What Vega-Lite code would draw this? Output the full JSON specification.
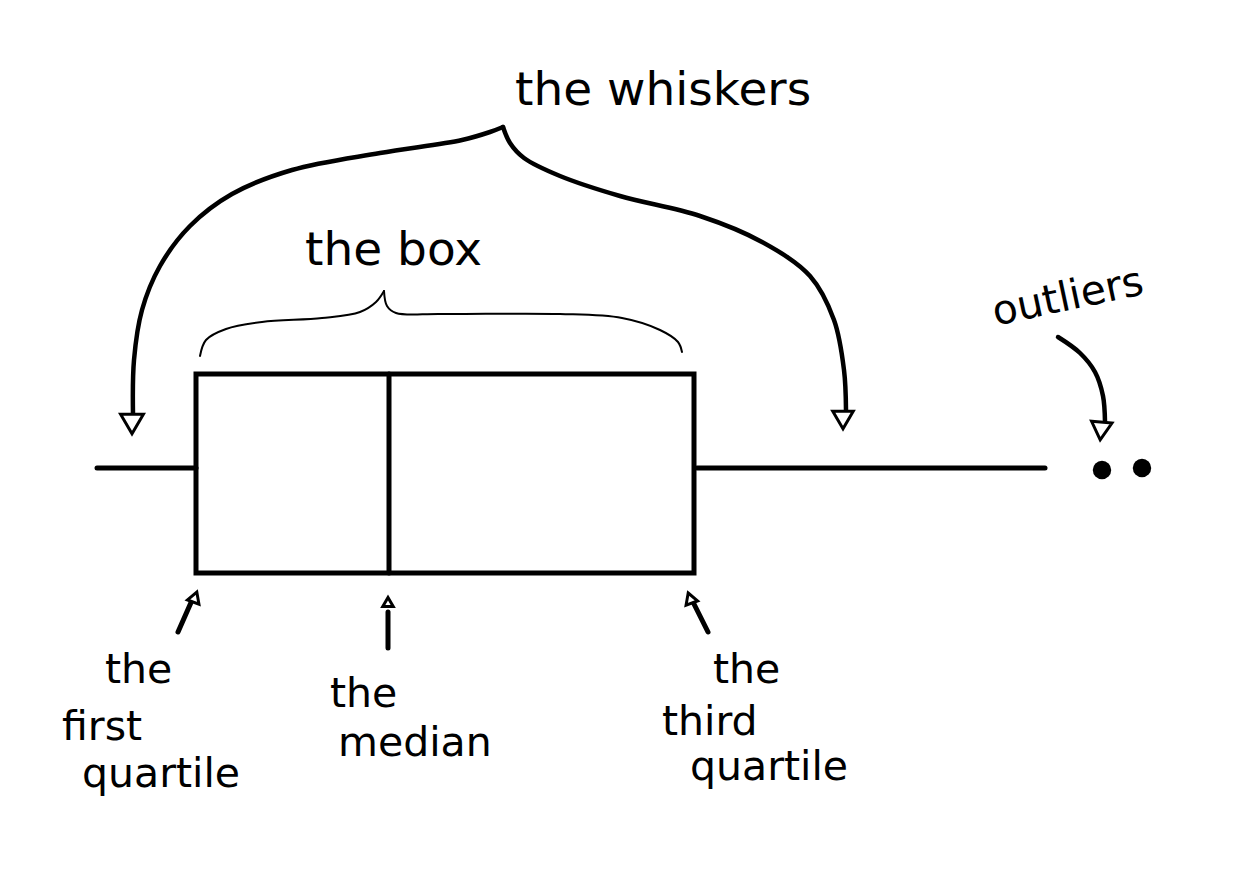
{
  "$schema": "https://vega.github.io/schema/vega-lite/v6.json",
  "width": 1240,
  "height": 873,
  "autosize": {"type": "fit", "contains": "padding"},
  "padding": 0,
  "background": "white",
  "config": {"view": {"stroke": null}},
  "datasets": {
    "segs": [
      {"g": "left whisker", "x": 97, "x2": 196, "y": 468, "y2": 468},
      {"g": "right whisker", "x": 697, "x2": 1045, "y": 468, "y2": 468},
      {"g": "median", "x": 389, "x2": 389, "y": 374, "y2": 573},
      {"g": "q1 arrow", "x": 178, "x2": 193, "y": 632, "y2": 598},
      {"g": "median arrow", "x": 388, "x2": 388, "y": 648, "y2": 612},
      {"g": "q3 arrow", "x": 708, "x2": 692, "y": 632, "y2": 600}
    ],
    "box": [{"q1": 196, "q3": 694, "top": 374, "bottom": 573}],
    "curves": [
      {"g": "wl", "i": 0, "x": 133, "y": 415},
      {"g": "wl", "i": 1, "x": 134, "y": 360},
      {"g": "wl", "i": 2, "x": 142, "y": 310},
      {"g": "wl", "i": 3, "x": 160, "y": 266},
      {"g": "wl", "i": 4, "x": 190, "y": 226},
      {"g": "wl", "i": 5, "x": 232, "y": 194},
      {"g": "wl", "i": 6, "x": 292, "y": 170},
      {"g": "wl", "i": 7, "x": 380, "y": 153},
      {"g": "wl", "i": 8, "x": 462, "y": 140},
      {"g": "wl", "i": 9, "x": 490, "y": 132},
      {"g": "wl", "i": 10, "x": 503, "y": 127},
      {"g": "wr", "i": 0, "x": 503, "y": 127},
      {"g": "wr", "i": 1, "x": 510, "y": 143},
      {"g": "wr", "i": 2, "x": 524, "y": 158},
      {"g": "wr", "i": 3, "x": 560, "y": 176},
      {"g": "wr", "i": 4, "x": 620, "y": 196},
      {"g": "wr", "i": 5, "x": 700, "y": 216},
      {"g": "wr", "i": 6, "x": 762, "y": 242},
      {"g": "wr", "i": 7, "x": 810, "y": 276},
      {"g": "wr", "i": 8, "x": 834, "y": 320},
      {"g": "wr", "i": 9, "x": 844, "y": 370},
      {"g": "wr", "i": 10, "x": 846, "y": 410},
      {"g": "out", "i": 0, "x": 1058, "y": 337},
      {"g": "out", "i": 1, "x": 1080, "y": 353},
      {"g": "out", "i": 2, "x": 1095, "y": 372},
      {"g": "out", "i": 3, "x": 1103, "y": 396},
      {"g": "out", "i": 4, "x": 1105, "y": 422}
    ],
    "thin": [
      {"g": "bl", "i": 0, "x": 200, "y": 356},
      {"g": "bl", "i": 1, "x": 206, "y": 340},
      {"g": "bl", "i": 2, "x": 226, "y": 329},
      {"g": "bl", "i": 3, "x": 262, "y": 322},
      {"g": "bl", "i": 4, "x": 322, "y": 318},
      {"g": "bl", "i": 5, "x": 360, "y": 312},
      {"g": "bl", "i": 6, "x": 376, "y": 302},
      {"g": "bl", "i": 7, "x": 384, "y": 291},
      {"g": "br", "i": 0, "x": 384, "y": 291},
      {"g": "br", "i": 1, "x": 387, "y": 306},
      {"g": "br", "i": 2, "x": 396, "y": 313},
      {"g": "br", "i": 3, "x": 440, "y": 314},
      {"g": "br", "i": 4, "x": 560, "y": 314},
      {"g": "br", "i": 5, "x": 622, "y": 318},
      {"g": "br", "i": 6, "x": 660, "y": 330},
      {"g": "br", "i": 7, "x": 678, "y": 342},
      {"g": "br", "i": 8, "x": 682, "y": 352}
    ],
    "heads": [
      {"g": "left whisker head", "x": 132, "y": 424, "a": 0, "s": 520},
      {"g": "right whisker head", "x": 843, "y": 420, "a": 0, "s": 420},
      {"g": "outlier head", "x": 1101, "y": 431, "a": 5, "s": 420},
      {"g": "q1 head", "x": 195, "y": 597, "a": 200, "s": 150},
      {"g": "median head", "x": 388, "y": 602, "a": 180, "s": 110},
      {"g": "q3 head", "x": 690, "y": 598, "a": 160, "s": 150}
    ],
    "outliers": [
      {"x": 1102, "y": 470},
      {"x": 1142, "y": 468}
    ],
    "titles": [
      {"t": "the whiskers", "x": 515, "y": 105},
      {"t": "the box", "x": 305, "y": 265}
    ],
    "labels": [
      {"t": "the", "x": 105, "y": 683},
      {"t": "first", "x": 62, "y": 740},
      {"t": "quartile", "x": 82, "y": 787},
      {"t": "the", "x": 330, "y": 707},
      {"t": "median", "x": 338, "y": 756},
      {"t": "the", "x": 713, "y": 683},
      {"t": "third", "x": 662, "y": 735},
      {"t": "quartile", "x": 690, "y": 780}
    ],
    "rot": [{"t": "outliers", "x": 1068, "y": 298}]
  },
  "layer": [
    {
      "data": {"name": "box"},
      "mark": {"type": "rect", "fill": "white", "stroke": "black", "strokeWidth": 5},
      "encoding": {
        "x": {"field": "q1", "type": "quantitative", "scale": {"domain": [0, 1240], "nice": false, "zero": false}, "axis": null},
        "x2": {"field": "q3"},
        "y": {"field": "top", "type": "quantitative", "scale": {"domain": [0, 873], "nice": false, "zero": false, "reverse": true}, "axis": null},
        "y2": {"field": "bottom"}
      }
    },
    {
      "data": {"name": "segs"},
      "mark": {"type": "rule", "stroke": "black", "strokeWidth": 5, "strokeCap": "round"},
      "encoding": {
        "x": {"field": "x", "type": "quantitative"},
        "x2": {"field": "x2"},
        "y": {"field": "y", "type": "quantitative"},
        "y2": {"field": "y2"}
      }
    },
    {
      "data": {"name": "curves"},
      "mark": {"type": "line", "stroke": "black", "strokeWidth": 4.5, "interpolate": "catmull-rom", "strokeCap": "round"},
      "encoding": {
        "x": {"field": "x", "type": "quantitative"},
        "y": {"field": "y", "type": "quantitative"},
        "detail": {"field": "g"},
        "order": {"field": "i", "type": "quantitative"}
      }
    },
    {
      "data": {"name": "thin"},
      "mark": {"type": "line", "stroke": "black", "strokeWidth": 2, "interpolate": "catmull-rom", "strokeCap": "round"},
      "encoding": {
        "x": {"field": "x", "type": "quantitative"},
        "y": {"field": "y", "type": "quantitative"},
        "detail": {"field": "g"},
        "order": {"field": "i", "type": "quantitative"}
      }
    },
    {
      "data": {"name": "heads"},
      "mark": {"type": "point", "shape": "triangle-down", "filled": false, "fill": "white", "fillOpacity": 1, "stroke": "black", "strokeWidth": 3, "opacity": 1},
      "encoding": {
        "x": {"field": "x", "type": "quantitative"},
        "y": {"field": "y", "type": "quantitative"},
        "angle": {"field": "a", "type": "quantitative", "scale": null},
        "size": {"field": "s", "type": "quantitative", "scale": null}
      }
    },
    {
      "data": {"name": "outliers"},
      "mark": {"type": "point", "shape": "circle", "filled": true, "color": "black", "opacity": 1, "size": 340},
      "encoding": {
        "x": {"field": "x", "type": "quantitative"},
        "y": {"field": "y", "type": "quantitative"}
      }
    },
    {
      "data": {"name": "titles"},
      "mark": {"type": "text", "align": "left", "baseline": "alphabetic", "font": "DejaVu Sans", "fontSize": 47, "color": "black"},
      "encoding": {
        "x": {"field": "x", "type": "quantitative"},
        "y": {"field": "y", "type": "quantitative"},
        "text": {"field": "t"}
      }
    },
    {
      "data": {"name": "labels"},
      "mark": {"type": "text", "align": "left", "baseline": "alphabetic", "font": "DejaVu Sans", "fontSize": 41, "color": "black"},
      "encoding": {
        "x": {"field": "x", "type": "quantitative"},
        "y": {"field": "y", "type": "quantitative"},
        "text": {"field": "t"}
      }
    },
    {
      "data": {"name": "rot"},
      "mark": {"type": "text", "align": "center", "baseline": "middle", "font": "DejaVu Sans", "fontSize": 41, "angle": 348, "color": "black"},
      "encoding": {
        "x": {"field": "x", "type": "quantitative"},
        "y": {"field": "y", "type": "quantitative"},
        "text": {"field": "t"}
      }
    }
  ]
}
